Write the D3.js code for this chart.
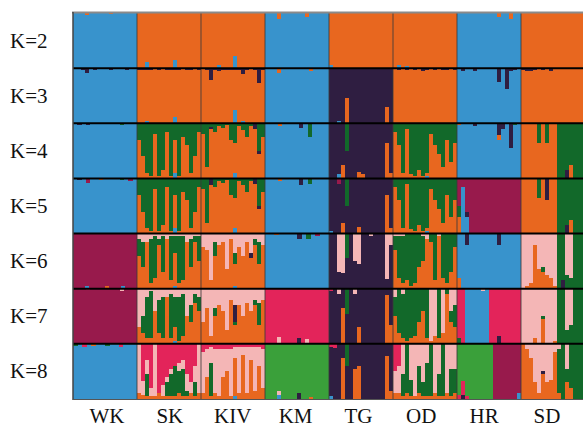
<!DOCTYPE html>
<html><head><meta charset="utf-8">
<script src="https://cdn.jsdelivr.net/npm/d3@7"></script>
<style>html,body{margin:0;padding:0;background:#fff;}svg{display:block;}
text{font-family:"Liberation Serif","Times New Roman","DejaVu Serif",serif;}
</style>
</head><body>
<svg id="chart" width="583" height="428"></svg>
<script>
// Populations (x) and K values (rows)
const populations = ["WK","SK","KIV","KM","TG","OD","HR","SD"];
const kLabels = ["K=2","K=3","K=4","K=5","K=6","K=7","K=8"];
// Cluster letters -> colours
const clusterKeys = ["b","o","p","g","m","k","r","l"];
const clusterColors = ["#3893cc","#e8671f","#2f1e41","#12692a","#981a4c","#f4b6b6","#e3245a","#3aa03a"];

// Membership per individual: letter + percent, stacked bottom->top; a letter without number takes the remainder.
const q2 = [
 "b b b b97o b b b b b b98o b b b b b b",
 "o o b12o o o o o o o b14o o o o o o o",
 "o o o o b5o o o o b22o o o o o o o o",
 "b b b b90o b b b b b b b92o b b b b b",
 "b5o o o o o o o o o o o o o o o o",
 "o b5o o b4o o o o o o o o o o o o o",
 "b b b b b b b b b b b92o b b b90o b b",
 "o o o o o o o o o o o o o o o o"];
const q3 = [
 "b b b97p b92p b b96p b b b b97p b b b b97p b b",
 "o97p o97p b5o92p o97p o98p o97p o98p o97p o97p b12o85p o97p o98p o97p o97p o98p o97p",
 "o98p o97p o78p o97p o95p o97p o96p o97p b25o72p o97p b5o85p o97p o98p o96p o73p o97p",
 "b b b b92o b b b b b b b b95o b b b b",
 "p p b5p p o45p p p p p p p p p p o30p p",
 "o98p o97p o98p o97p o98p o97p o98p o95p o97p o98p o97p o98p o97p o96p o98p o97p",
 "b b95p b b b94p b b b b b b75p b b63p b95p b97p b",
 "o96p o95p o94p o96p o o97p o o94p o o o o o o o o"];
const q4 = [
 "b b97p b b96p b b b98o b b b b b97g b b b",
 "o70g o40g o10g o5g o80g o5g o15g o85g o5g b10o60g o5g o75g o60g o10g o40g o85g",
 "o80g o20g o90p3g o85g o95g o92g o97g o70g b10o55g o95g o88g o75g o95g o90p o45p5g o75g",
 "b b b b95o b b b b b92p b b75g b b b b",
 "p p b8p o25p p50g p p o12p o8p p p p p p o65p o10p",
 "o85g o60g o10g o90g o8g o5g o15g o5g b5o5g o80g o60g o45g o20g o70g o30g o65g",
 "b97o b b b b95p b b b b b b70o8p b90p b b55p b97g b",
 "o o o o o65g o o65g o o g g p15g o25g g g g"];
const q5 = [
 "b b97p b b92m b b b98o b b b b b97g b b96m b",
 "o70g o40g o10g o5g o80g o5g o15g o85g o5g b10o60g o5g o75g o60g o10g o40g o85g",
 "o80g o20g o88p o85g o95g o92g o97g o70g b10o55g o95g o88g o75g o95g o90p o45p5g o75g",
 "b b b b95o b b b b b88p b b90g b b b b",
 "b5p p p90m o20p p50g p p o12p p p p p p p o70p o10p",
 "o85g o60g o10g o90g o8g o5g o15g o5g b5o5g o80g o60g o45g o20g o70g o30g o60g",
 "o30g20m b85m b30p10m m m m m m m m m m m m m m",
 "o o o o o65g o o60p o o g g p15g o25g g g g"];
const q6 = [
 "m m m b5m m m m m o5m m m m b5m m m m",
 "o60g30k o40g45k o85k o10g80k o20g75k o80g10k o30g65k o90k o15g80k b5o60g30k o10g85k o15g80k o85k o40g50k o85g10k o50g45k",
 "o75k o70k o15k o60g25k o80k o85k o35k o90k b5o40g20k o75k o60k o85k o55p10k o80g10k o45g40k o80k",
 "b b b97o b b b b b90p b b90g b b95m b b",
 "p p p30k p28k p55g p p50k p45k p p p95k p p p p18k p80k",
 "o70g25k o20g75k o10g85k o15g o5g o10g o40g o50g45k o90k o85g o15g o95k o20g o10g o30g o75g",
 "o20b b b80p b b b b b b b b80p b b b b b",
 "k o5k o10k o80k o35k o30g10k o25k o20k o5k g p15g g25k g20k g g g"];
const q7 = [
 "m m m m97r m m m m m m m m96k m m m",
 "o30k o20g30k o10g75k o10g85k o60k o20g60k o10g75k o85k o10g80k b5o25g55k o5g80k o15g75k o50k o40g30k o75g15k o60g25k",
 "o40k o65k o15k o50g15k o70k o60k o25k o80k o35g5p30k o70k o50k o75k o60k o70g10k o35g40k o80k",
 "r r r k12r r r r r p10r r k8r r r r r r",
 "p95r p p90k o65p p55g p p90k o30p p p p p p p o88p o35p",
 "o50g35k o20g o10g80k o5g o10g o15g o40g o60g o10g o5k o15k o10g o20k o90g o40g20k o30g40k",
 "g10r r b b b b b95k b r r p15r r r r r r",
 "k k k o10k k o45g5k k k o5k g g g25k g35k g g g"];
const q8 = [
 "b97g b b95r b b97o b b b96g b b b95r b b b",
 "o10k o8k25r o5g40k25r o5k15r o5k o10r o5k20r o5g25k10r o5g40k10r o5g55r o10g40k15r o5g50k15r o5g10k30r o10k20r o5g25k30r o10k",
 "o10k75r o40k50r o5g60k30r o10k80r o5k85r o40k50r o50k40r o5k85r b5o70k20r o10k85r o80k15r o10k85r o70k25r o15k80r o60k35r o20k70r",
 "l l l b8k7l l l l l p10l l l o3l l l l l",
 "b5p90r p92r p o75p p60g p o55p o60p p p p p p p o78p o15p",
 "o10k40r o10k50r o5g40k o10g o5g30k o5k o10g50k o5g25k o5g60k o5g o10k o5g40k o5g o10k o5g50k o10g45k",
 "r8l p8r25l r5l l l l l l l m m m m m m b10m",
 "o o90k o75k o30k o10k o45p5k o30k o35k o85k o10g80k g o30g25k o20g g g g"];
const qByK = [q2, q3, q4, q5, q6, q7, q8];

const color = d3.scaleOrdinal().domain(clusterKeys).range(clusterColors);

function parseInd(tok) {
  const parts = [...tok.matchAll(/([a-z])(\d*)/g)];
  let used = 0;
  const out = parts.map(m => {
    const v = m[2] === "" ? null : (+m[2]) / 100;
    if (v !== null) used += v;
    return {c: m[1], v};
  });
  const rem = Math.max(0, 1 - used);
  out.forEach(d => { if (d.v === null) d.v = rem; });
  let acc = 0;
  return out.map(d => { const s = {c: d.c, y0: acc, y1: acc + d.v}; acc += d.v; return s; });
}

const svg = d3.select("#chart");
svg.append("rect").attr("width", 583).attr("height", 428).attr("fill", "#fff");

const rowScale = d3.scaleBand().domain(kLabels).range([13, 399]);
const popScale = d3.scaleBand().domain(populations).range([73, 585]);
const labelScale = d3.scalePoint().domain(populations).range([107, 547]);

const plot = svg.append("g").attr("shape-rendering", "crispEdges");

kLabels.forEach((kl, ki) => {
  const top = rowScale(kl), bot = top + rowScale.bandwidth();
  const y = d3.scaleLinear().domain([0, 1]).range([bot, top]);
  const row = plot.append("g").attr("class", "row");
  populations.forEach((pop, pi) => {
    const inds = qByK[ki][pi].trim().split(/\s+/).map(parseInd);
    const xin = d3.scaleBand().domain(d3.range(inds.length))
      .range([popScale(pop), popScale(pop) + popScale.bandwidth()]);
    const g = row.append("g");
    inds.forEach((segs, ii) => {
      const x0 = Math.round(xin(ii)), x1 = Math.round(xin(ii) + xin.bandwidth());
      g.selectAll(null).data(segs).enter().append("rect")
        .attr("x", x0)
        .attr("width", x1 - x0)
        .attr("y", d => Math.round(y(d.y1)))
        .attr("height", d => Math.max(0, Math.round(y(d.y0)) - Math.round(y(d.y1))))
        .attr("fill", d => color(d.c));
    });
  });
  // K label
  svg.append("text")
    .attr("x", 10).attr("y", top + rowScale.bandwidth() / 2 + 7)
    .attr("font-size", 21).attr("fill", "#111")
    .text(kl);
});

// population separators
populations.slice(1).forEach(pop => {
  svg.append("line")
    .attr("x1", popScale(pop)).attr("x2", popScale(pop))
    .attr("y1", 13).attr("y2", 399)
    .attr("stroke", "#3a3a3a").attr("stroke-opacity", 0.7).attr("stroke-width", 1.2);
});

// row separators
kLabels.slice(1).forEach(kl => {
  svg.append("line")
    .attr("x1", 73).attr("x2", 583)
    .attr("y1", rowScale(kl)).attr("y2", rowScale(kl))
    .attr("stroke", "#000").attr("stroke-width", 2);
});
// frame
svg.append("line").attr("x1", 72).attr("x2", 583).attr("y1", 12.5).attr("y2", 12.5)
  .attr("stroke", "#8a8a8a").attr("stroke-width", 2);
svg.append("line").attr("x1", 73).attr("x2", 73).attr("y1", 12).attr("y2", 400)
  .attr("stroke", "#444").attr("stroke-width", 1.5);
svg.append("line").attr("x1", 73).attr("x2", 583).attr("y1", 399.5).attr("y2", 399.5)
  .attr("stroke", "#555").attr("stroke-width", 1.2);

// population labels
svg.selectAll(".plab").data(populations).enter().append("text")
  .attr("class", "plab")
  .attr("x", d => labelScale(d)).attr("y", 423)
  .attr("text-anchor", "middle")
  .attr("font-size", 21).attr("fill", "#111")
  .text(d => d);
</script>
</body></html>
